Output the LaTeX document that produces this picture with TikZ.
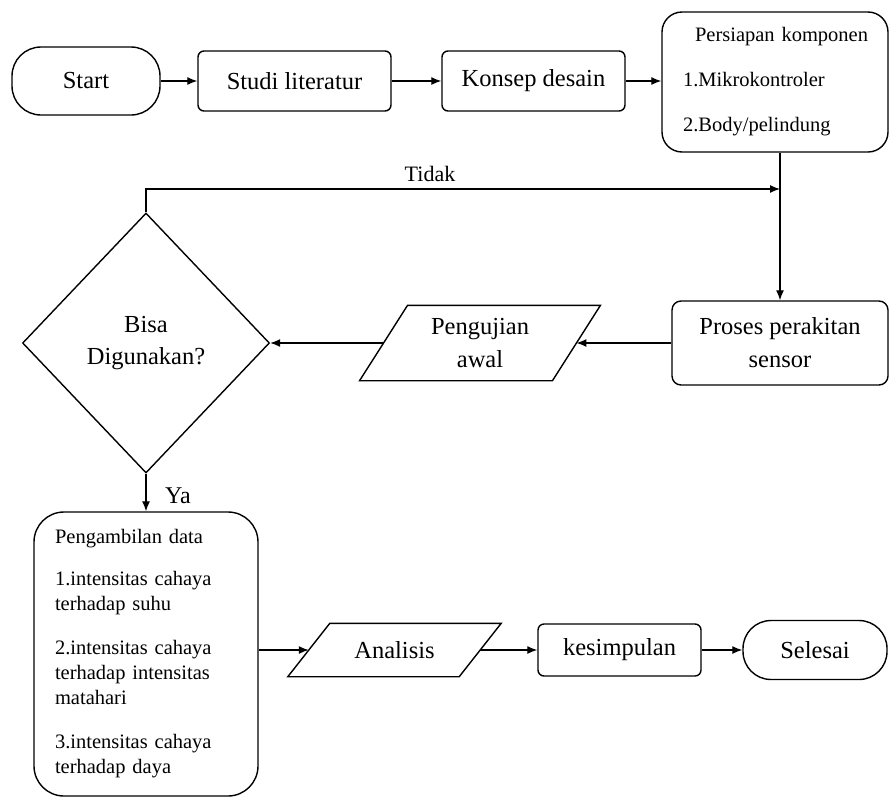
\documentclass[tikz,border=0pt]{standalone}
\usepackage{fontspec}
\setmainfont{Liberation Serif}
\usetikzlibrary{shapes.geometric,arrows.meta}
\begin{document}
\begin{tikzpicture}[x=1pt,y=-1pt,
  box/.style={draw,line width=1.4pt,rounded corners=6pt,inner sep=0pt,
    font=\fontsize{24.5}{33}\selectfont,align=center},
  term/.style={box,rounded corners=29pt},
  listbox/.style={box,font=\fontsize{20.5}{25}\selectfont,align=left,inner xsep=21pt},
  para/.style={inner sep=0pt,font=\fontsize{24.5}{33}\selectfont,align=center},
  shapeline/.style={line width=1.4pt,line join=miter},
  decision/.style={diamond,draw,line width=1.4pt,inner sep=0pt,
    font=\fontsize{24.5}{32}\selectfont,align=center},
  arr/.style={-{Latex[length=10pt,width=8pt]},line width=1.3pt},
  lbl/.style={inner sep=0pt,font=\fontsize{22}{26}\selectfont}]
\useasboundingbox (0,0) rectangle (890,798);

\node[term,minimum width=148pt,minimum height=68pt] (start) at (86,81) {Start};
\node[box,minimum width=193pt,minimum height=60pt] (studi) at (294.5,81) {Studi literatur};
\node[box,minimum width=183pt,minimum height=60pt] (konsep) at (533.5,81) {Konsep desain};
\node[listbox,rounded corners=20pt,text width=184pt,minimum height=140pt] (persiapan) at (775,82)
  {\hspace*{12pt}\mbox{Persiapan komponen}\\[20pt]1.Mikrokontroler\\[20pt]2.Body/pelindung};
\node[box,rounded corners=9pt,minimum width=216pt,minimum height=84pt] (proses) at (780,343) {Proses perakitan\\sensor};

\node[para,minimum width=192.5pt,minimum height=75pt] (uji) at (480,343) {Pengujian\\awal};
\draw[shapeline] ([xshift=24pt]uji.north west) -- ([xshift=24pt]uji.north east)
  -- ([xshift=-24pt]uji.south east) -- ([xshift=-24pt]uji.south west) -- cycle;

\node[decision,minimum width=247pt,minimum height=260pt] (dia) at (146,343) {Bisa\\Digunakan?};

\node[listbox,rounded corners=30pt,text width=182pt,minimum height=284pt] (ambil) at (146,654)
  {Pengambilan data\\[17pt]1.intensitas cahaya\\terhadap suhu\\[19pt]2.intensitas cahaya\\terhadap intensitas\\matahari\\[19pt]3.intensitas cahaya\\terhadap daya};

\node[para,minimum width=171pt,minimum height=53pt] (anal) at (394.5,650) {Analisis};
\draw[shapeline] ([xshift=21pt]anal.north west) -- ([xshift=21pt]anal.north east)
  -- ([xshift=-21pt]anal.south east) -- ([xshift=-21pt]anal.south west) -- cycle;

\node[box,minimum width=163pt,minimum height=52pt] (kes) at (619.5,650) {kesimpulan};
\node[term,rounded corners=28pt,minimum width=144pt,minimum height=59pt] (sel) at (815,650) {Selesai};

\coordinate (tk) at (780,189);
\node[lbl] (tidak) at (430,174) {Tidak};
\node[lbl,font=\fontsize{24}{28}\selectfont] (ya) at (178,496) {Ya};

\draw[arr] (start.east) -- (studi.west);
\draw[arr] (studi.east) -- (konsep.west);
\draw[arr] (konsep.east) -- (konsep.east -| persiapan.west);
\draw[arr] (persiapan.south -| proses.north) -- (proses.north);
\draw[arr] (dia.north) |- (tk);
\draw[arr] (proses.west) -- (uji.east);
\draw[arr] (uji.west) -- (dia.east);
\draw[arr] (dia.south) -- (ambil.north);
\draw[arr] (ambil.east |- anal.west) -- (anal.west);
\draw[arr] (anal.east) -- (kes.west);
\draw[arr] (kes.east) -- (sel.west);
\end{tikzpicture}
\end{document}
